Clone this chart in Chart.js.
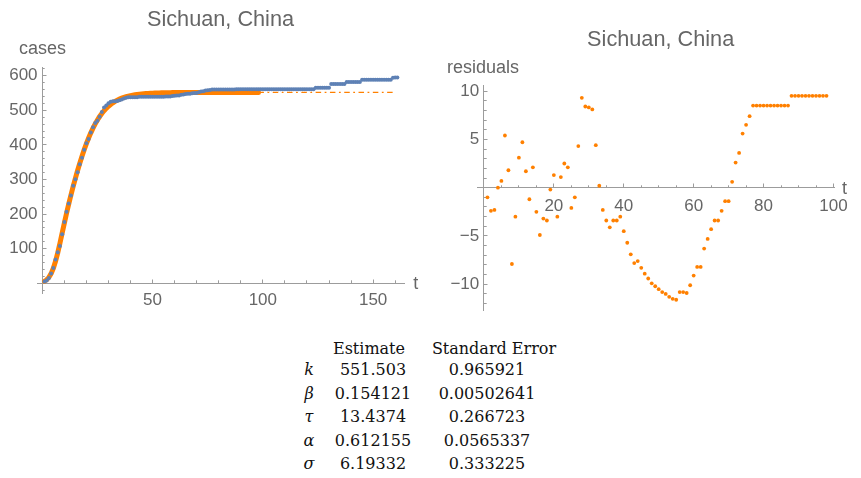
<!DOCTYPE html>
<html>
<head>
<meta charset="utf-8">
<script src="https://cdn.jsdelivr.net/npm/chart.js@4/dist/chart.umd.min.js"></script>
<style>
html,body{margin:0;padding:0;background:#fff;width:861px;height:478px;overflow:hidden;position:relative}
#c1{position:absolute;left:0;top:0}
#c2{position:absolute;left:430px;top:0}
.cell{position:absolute;width:160px;text-align:center;font-family:"DejaVu Serif",serif;font-size:16px;line-height:20px;color:#111;white-space:nowrap}
.sym{font-style:italic}
</style>
</head>
<body>
<canvas id="c1" width="442" height="320"></canvas>
<canvas id="c2" width="431" height="330"></canvas>
<div id="tbl"></div>
<script>
// ---------------- data ----------------
const chartTitle = 'Sichuan, China';
const firstDay = 1;
// cumulative confirmed cases, day 1 .. 161
const caseCounts = [
  5, 8, 15, 28, 44, 69, 90, 108, 142, 177,
  207, 231, 254, 282, 301, 321, 344, 363, 386, 405,
  417, 436, 451, 463, 470, 481, 495, 508, 514, 520,
  525, 526, 526, 527, 529, 531, 534, 536, 538, 538,
  538, 538, 538, 539, 539, 539, 539, 539, 539, 539,
  539, 539, 539, 539, 539, 540, 540, 540, 541, 542,
  543, 543, 545, 546, 547, 548, 548, 549, 550, 550,
  552, 554, 555, 557, 558, 559, 560, 560, 560, 560,
  560, 560, 560, 560, 560, 560, 560, 561, 561, 561,
  561, 561, 561, 561, 561, 561, 561, 561, 561, 561,
  561, 561, 561, 561, 561, 561, 561, 561, 561, 561,
  561, 561, 561, 561, 561, 561, 561, 561, 561, 561,
  561, 561, 561, 565, 565, 565, 565, 565, 565, 565,
  576, 576, 576, 576, 576, 576, 576, 582, 582, 582,
  582, 582, 582, 582, 588, 588, 588, 588, 588, 588,
  588, 588, 588, 588, 588, 588, 588, 588, 594, 595,
  595
];
// fitted model curve, day 1 .. 98
const fitCurve = [
  6.0, 10.4, 17.3, 28.0, 43.3, 63.6, 88.2, 115.9, 145.0, 173.9,
  202.3, 229.4, 255.2, 279.9, 303.5, 325.9, 347.2, 367.2, 386.2, 403.7,
  420.0, 434.9, 448.5, 460.9, 472.1, 482.0, 490.7, 498.7, 505.6, 511.7,
  516.9, 521.6, 525.8, 529.3, 532.4, 535.1, 537.4, 539.3, 541.0, 542.5,
  543.7, 544.9, 545.8, 546.6, 547.3, 547.9, 548.4, 548.9, 549.2, 549.5,
  549.8, 550.0, 550.3, 550.5, 550.6, 550.8, 550.9, 551.0, 551.1, 551.1,
  551.2, 551.2, 551.3, 551.3, 551.3, 551.4, 551.4, 551.4, 551.4, 551.4,
  551.4, 551.4, 551.5, 551.5, 551.5, 551.5, 551.5, 551.5, 551.5, 551.5,
  551.5, 551.5, 551.5, 551.5, 551.5, 551.5, 551.5, 551.5, 551.5, 551.5,
  551.5, 551.5, 551.5, 551.5, 551.5, 551.5, 551.5, 551.5
];
// residuals of the fit, day 1 .. 98
const residuals = [
  -1.0, -2.4, -2.3, 0.0, 0.7, 5.4, 1.8, -7.9, -3.0, 3.1,
  4.7, 1.7, -1.2, 2.1, -2.5, -4.9, -3.2, -3.4, -0.2, 1.3,
  -3.0, 1.1, 2.5, 2.1, -2.1, -1.0, 4.3, 9.3, 8.4, 8.3,
  8.1, 4.4, 0.2, -2.3, -3.4, -4.1, -3.4, -3.4, -3.0, -4.5,
  -5.7, -6.9, -7.8, -7.6, -8.3, -8.9, -9.4, -9.9, -10.2, -10.5,
  -10.8, -11.0, -11.3, -11.5, -11.6, -10.8, -10.8, -10.9, -10.1, -9.1,
  -8.2, -8.2, -6.3, -5.3, -4.3, -3.4, -3.4, -2.4, -1.4, -1.4,
  0.6, 2.6, 3.6, 5.6, 6.5, 7.4, 8.5, 8.5, 8.5, 8.5,
  8.5, 8.5, 8.5, 8.5, 8.5, 8.5, 8.5, 9.5, 9.5, 9.5,
  9.5, 9.5, 9.5, 9.5, 9.5, 9.5, 9.5, 9.5
];
// extrapolation of the fit (dash-dot) at the plateau k
const extensionDays = [98, 160];
const paramNames = ['k', 'β', 'τ', 'α', 'σ'];
const estimates = ['551.503', '0.154121', '13.4374', '0.612155', '6.19332'];
const stdErrors = ['0.965921', '0.00502641', '0.266723', '0.0565337', '0.333225'];
const tableHeaders = ['Estimate', 'Standard Error'];
const kEstimate = Number(estimates[0]);

const casesXTicks = [50, 100, 150];
const casesYTicks = [100, 200, 300, 400, 500, 600];
const residXTicks = [20, 40, 60, 80, 100];
const residYTicks = [-10, -5, 5, 10];

// ---------------- style ----------------
const FONT = '"Liberation Sans", Arial, Helvetica, sans-serif';
const AXIS = '#9c9c9c';
const TEXT = '#666666';
const BLUE = '#5E81B5';
const ORANGE = '#FF8000';

const toPoints = (arr, start) => arr.map((v, i) => ({x: start + i, y: v}));
const steps = (a, b, s, skip) => { const r = []; for (let i = 0; a + i * s <= b + 1e-9; i++) { const v = +(a + i * s).toFixed(6); if (v !== skip) r.push(v); } return r; };
const fmt = v => (v < 0 ? '\u2212' + Math.abs(v) : String(v));

function scalePair(axis, other, min, max, majors, minors, labelPad, ySpace) {
  const major = {
    type: 'linear', axis, min, max, bounds: 'data', position: {[other]: 0},
    afterBuildTicks: s => { s.ticks = majors.map(v => ({value: v})); },
    grid: {display: true, drawOnChartArea: false, drawTicks: true, tickLength: -4.5, tickColor: AXIS, tickWidth: 1},
    border: {display: true, color: AXIS, width: 1},
    ticks: {autoSkip: false, maxRotation: 0, minRotation: 0, padding: labelPad, color: TEXT,
      font: {family: FONT, size: 17},
      callback: v => fmt(v) + (ySpace ? ySpace : '')}
  };
  const minor = {
    type: 'linear', axis, min, max, bounds: 'data', position: {[other]: 0},
    afterBuildTicks: s => { s.ticks = minors.map(v => ({value: v})); },
    grid: {display: true, drawOnChartArea: false, drawTicks: true, tickLength: -2.7, tickColor: AXIS, tickWidth: 1},
    border: {display: false},
    ticks: {display: false}
  };
  return [major, minor];
}

function axisLabels(yText, yDx, yDy, tDx) {
  return {
    id: 'axisLabels',
    afterDraw(chart) {
      const {ctx, chartArea, scales} = chart;
      ctx.save();
      ctx.fillStyle = TEXT;
      ctx.font = '18px ' + FONT;
      ctx.textAlign = 'left';
      ctx.textBaseline = 'alphabetic';
      ctx.fillText(yText, scales.x.getPixelForValue(0) + yDx, chartArea.top + yDy);
      ctx.textBaseline = 'middle';
      ctx.fillText('t', chartArea.right + tDx, scales.y.getPixelForValue(0) + 1);
      ctx.restore();
    }
  };
}

function titleOpts(top, bottom) {
  return {display: true, text: chartTitle, color: TEXT, font: {family: FONT, size: 21.7, weight: 'normal', lineHeight: 1.2},
          padding: {top, bottom}};
}

// ---------------- left chart ----------------
const [lx, lxm] = scalePair('x', 'y', -2.4, 164, casesXTicks, steps(10, 160, 10, 0), 11);
const [ly, lym] = scalePair('y', 'x', -28, 625, casesYTicks, steps(-20, 620, 20, 0), 0, ' ');

new Chart(document.getElementById('c1'), {
  type: 'scatter',
  data: {
    datasets: [
      {label: 'cases', data: toPoints(caseCounts, firstDay), backgroundColor: BLUE, borderWidth: 0,
       pointRadius: 2, showLine: false, clip: false},
      {label: 'fit', data: toPoints(fitCurve, firstDay), borderColor: ORANGE, borderWidth: 5,
       pointRadius: 0, showLine: true, tension: 0, borderCapStyle: 'round', clip: false},
      {label: 'extrapolation', data: extensionDays.map(d => ({x: d, y: kEstimate})), borderColor: ORANGE,
       borderWidth: 1.3, borderDash: [5.5, 3.5, 1.8, 3.5], pointRadius: 0, showLine: true, clip: false}
    ]
  },
  options: {
    responsive: false, animation: false, devicePixelRatio: 1,
    layout: {padding: {left: 37, right: 38, top: 0, bottom: 27}},
    scales: {x: lx, xm: lxm, y: ly, ym: lym},
    plugins: {legend: {display: false}, tooltip: {enabled: false}, title: titleOpts(7, 34)}
  },
  plugins: [axisLabels('cases', -23.3, -13, 9.3)]
});

// ---------------- right chart ----------------
const [rx, rxm] = scalePair('x', 'y', -1.9, 100.2, residXTicks, steps(5, 100, 5, 0), 13.3);
const [ry, rym] = scalePair('y', 'x', -12.66, 10.62, residYTicks, steps(-12, 10, 1, 0), 0, ' ');

new Chart(document.getElementById('c2'), {
  type: 'scatter',
  data: {
    datasets: [
      {label: 'residuals', data: toPoints(residuals, firstDay), backgroundColor: ORANGE, borderWidth: 0,
       pointRadius: 1.9, showLine: false, clip: false}
    ]
  },
  options: {
    responsive: false, animation: false, devicePixelRatio: 1,
    layout: {padding: {left: 47.3, right: 17, top: 0, bottom: 20}},
    scales: {x: rx, xm: rxm, y: ry, ym: rym},
    plugins: {legend: {display: false}, tooltip: {enabled: false}, title: titleOpts(27, 32)}
  },
  plugins: [axisLabels('residuals', -36.9, -12.3, 7.7)]
});

// ---------------- parameter table ----------------
const tbl = document.getElementById('tbl');
const colCenters = [309, 373, 487];
const headerCenters = [369, 494];
const headerBaseline = 354;
const rowBaselines = [375.5, 399, 422.5, 446, 469.5];
const BASE_OFF = 15.5;
function addCell(text, cx, baseline, cls) {
  const d = document.createElement('div');
  d.className = 'cell' + (cls ? ' ' + cls : '');
  d.textContent = text;
  d.style.left = (cx - 80) + 'px';
  d.style.top = (baseline - BASE_OFF) + 'px';
  tbl.appendChild(d);
}
tableHeaders.forEach((h, i) => addCell(h, headerCenters[i], headerBaseline));
paramNames.forEach((p, i) => {
  addCell(p, colCenters[0], rowBaselines[i], 'sym');
  addCell(estimates[i], colCenters[1], rowBaselines[i]);
  addCell(stdErrors[i], colCenters[2], rowBaselines[i]);
});
</script>
</body>
</html>
